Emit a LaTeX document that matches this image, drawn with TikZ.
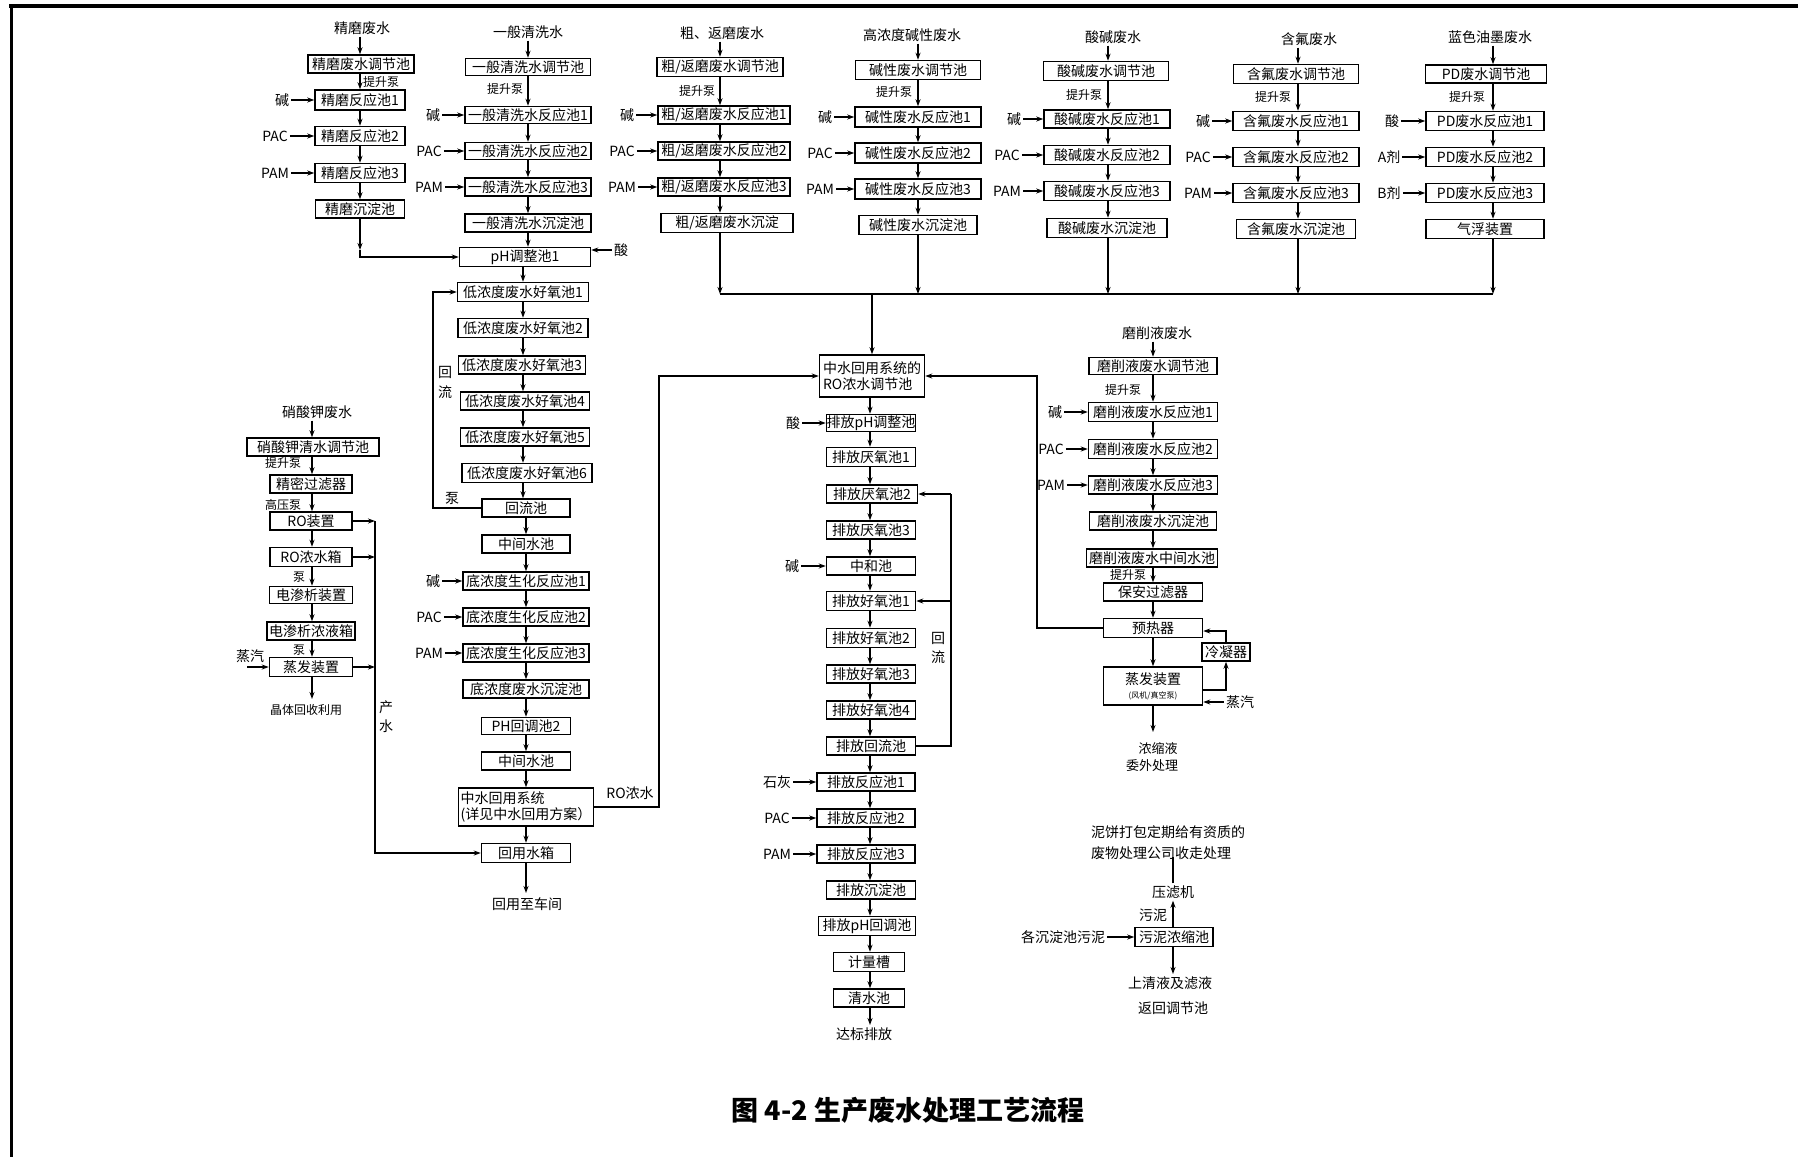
\documentclass[tikz,border=0pt]{standalone}
\usepackage{fontspec}
\setmainfont{Noto Sans CJK SC}
\usetikzlibrary{arrows.meta,calc}
\newcommand\Bx[5]{\node[bx,minimum width=#4pt,minimum height=#5pt] (#1) at (#2) {#3};}
\newcommand\Lb[3]{\node[lb] (#1) at (#2) {#3};}
\newcommand\Sl[3]{\node[sl] (#1) at (#2) {#3};}
\begin{document}
\begin{tikzpicture}[x=1pt,y=-1pt,
 bx/.style={draw,line width=1.5pt,inner sep=0pt,font=\fontsize{14}{16}\selectfont},
 lb/.style={inner sep=2pt,font=\fontsize{14}{16}\selectfont},
 sl/.style={inner sep=1pt,font=\fontsize{12}{14}\selectfont},
 ar/.style={line width=1.2pt,-{Stealth[length=7pt,width=5pt]}},
 ln/.style={line width=1.2pt}]
\useasboundingbox (0,0) rectangle (1798,1157);
% frame
\draw[line width=4pt] (9,6) -- (1798,6);
\draw[line width=3pt] (11,6) -- (11,1157);
% arrow columns
\coordinate (X1) at (360,0);
\coordinate (X2) at (528,0);
\coordinate (X2b) at (523,0);
\coordinate (X2c) at (526,0);
\coordinate (X3) at (720,0);
\coordinate (X4) at (918,0);
\coordinate (X5) at (1108,0);
\coordinate (X6) at (1298,0);
\coordinate (X7) at (1493,0);
\coordinate (XK) at (312,0);
\coordinate (XP) at (870,0);
\coordinate (XR) at (872,0);
\coordinate (XM) at (1153,0);
% ---------- column 1
\Lb{t1}{362,28}{精磨废水}
\Bx{a0}{361,64}{精磨废水调节池}{106}{18}
\node[sl,anchor=west] (a0p) at (362,82) {提升泵};
\Bx{a1}{360,100}{精磨反应池1}{90}{20}
\Bx{a2}{360,136}{精磨反应池2}{90}{19}
\Bx{a3}{360,173}{精磨反应池3}{90}{19}
\Bx{a4}{360,209}{精磨沉淀池}{89}{18}
\Lb{a1c}{282,100}{碱}
\Lb{a2c}{275,136}{PAC}
\Lb{a3c}{275,173}{PAM}
% ---------- column 2
\Lb{t2}{528,32}{一般清洗水}
\Bx{b0}{528,67}{一般清洗水调节池}{125}{17}
\Sl{b0p}{505,89}{提升泵}
\Bx{b1}{528,115}{一般清洗水反应池1}{126}{17}
\Bx{b2}{528,151}{一般清洗水反应池2}{126}{17}
\Bx{b3}{528,187}{一般清洗水反应池3}{126}{18}
\Bx{b4}{528,223}{一般清洗水沉淀池}{126}{18}
\Lb{b1c}{433,115}{碱}
\Lb{b2c}{429,151}{PAC}
\Lb{b3c}{429,187}{PAM}
\Bx{pH1}{525,257}{pH调整池1}{131}{19}
\Lb{san1}{621,250}{酸}
\Bx{o1}{523,292}{低浓度废水好氧池1}{131}{19}
\Bx{o2}{523,328}{低浓度废水好氧池2}{130}{19}
\Bx{o3}{522,365}{低浓度废水好氧池3}{127}{18}
\Bx{o4}{525,401}{低浓度废水好氧池4}{129}{18}
\Bx{o5}{525,437}{低浓度废水好氧池5}{129}{18}
\Bx{o6}{527,473}{低浓度废水好氧池6}{130}{19}
\Bx{hl}{526,508}{回流池}{88}{18}
\Bx{zj1}{526,544}{中间水池}{88}{18}
\Lb{hl1}{445,372}{回}
\Lb{hl2}{445,392}{流}
\Lb{beng1}{452,498}{泵}
\Bx{d1}{526,581}{底浓度生化反应池1}{126}{18}
\Bx{d2}{526,617}{底浓度生化反应池2}{126}{18}
\Bx{d3}{526,653}{底浓度生化反应池3}{126}{18}
\Bx{d4}{526,689}{底浓度废水沉淀池}{126}{18}
\Lb{d1c}{433,581}{碱}
\Lb{d2c}{429,617}{PAC}
\Lb{d3c}{429,653}{PAM}
\Bx{ph2}{526,726}{PH回调池2}{89}{17}
\Bx{zj2}{526,761}{中间水池}{89}{18}
\node[bx,minimum width=135pt,minimum height=38pt,align=left] (zs) at (526,807) {中水回用系统\\(详见中水回用方案）};
\Bx{hy}{526,853}{回用水箱}{89}{19}
\Lb{hyc}{527,904}{回用至车间}
\Lb{rono}{630,793}{RO浓水}
% ---------- left column
\Lb{tk}{317,412}{硝酸钾废水}
\Bx{k0}{313,447}{硝酸钾清水调节池}{132}{18}
\Sl{k0p}{283,463}{提升泵}
\Bx{k1}{311,484}{精密过滤器}{82}{18}
\Sl{k1p}{283,505}{高压泵}
\Bx{k2}{311,521}{RO装置}{82}{18}
\Bx{k3}{311,557}{RO浓水箱}{82}{19}
\Sl{k3p}{299,577}{泵}
\Bx{k4}{311,595}{电渗析装置}{83}{17}
\Bx{k5}{311,631}{电渗析浓液箱}{88}{18}
\Sl{k5p}{299,650}{泵}
\Bx{k6}{311,667}{蒸发装置}{83}{19}
\Lb{kzq}{250,656}{蒸汽}
\Sl{kend}{306,710}{晶体回收利用}
\Lb{cs1}{386,707}{产}
\Lb{cs2}{386,726}{水}
% ---------- column 3
\Lb{t3}{722,33}{粗、返磨废水}
\Bx{c0}{720,67}{粗/返磨废水调节池}{126}{19}
\Sl{c0p}{697,91}{提升泵}
\Bx{c1}{724,115}{粗/返磨废水反应池1}{132}{18}
\Bx{c2}{724,151}{粗/返磨废水反应池2}{132}{18}
\Bx{c3}{724,187}{粗/返磨废水反应池3}{132}{18}
\Bx{c4}{727,223}{粗/返磨废水沉淀}{132}{19}
\Lb{c1c}{627,115}{碱}
\Lb{c2c}{622,151}{PAC}
\Lb{c3c}{622,187}{PAM}
% ---------- column 4
\Lb{t4}{912,35}{高浓度碱性废水}
\Bx{e0}{918,70}{碱性废水调节池}{125}{19}
\Sl{e0p}{894,92}{提升泵}
\Bx{e1}{918,117}{碱性废水反应池1}{126}{20}
\Bx{e2}{918,153}{碱性废水反应池2}{126}{20}
\Bx{e3}{918,189}{碱性废水反应池3}{126}{20}
\Bx{e4}{918,225}{碱性废水沉淀池}{118}{19}
\Lb{e1c}{825,117}{碱}
\Lb{e2c}{820,153}{PAC}
\Lb{e3c}{820,189}{PAM}
% ---------- column 5
\Lb{t5}{1113,37}{酸碱废水}
\Bx{f0}{1106,71}{酸碱废水调节池}{125}{19}
\Sl{f0p}{1084,95}{提升泵}
\Bx{f1}{1107,119}{酸碱废水反应池1}{126}{18}
\Bx{f2}{1107,155}{酸碱废水反应池2}{126}{19}
\Bx{f3}{1107,191}{酸碱废水反应池3}{126}{19}
\Bx{f4}{1107,228}{酸碱废水沉淀池}{120}{19}
\Lb{f1c}{1014,119}{碱}
\Lb{f2c}{1007,155}{PAC}
\Lb{f3c}{1007,191}{PAM}
% ---------- column 6
\Lb{t6}{1309,39}{含氟废水}
\Bx{g0}{1296,74}{含氟废水调节池}{125}{19}
\Sl{g0p}{1273,97}{提升泵}
\Bx{g1}{1296,121}{含氟废水反应池1}{126}{19}
\Bx{g2}{1296,157}{含氟废水反应池2}{126}{19}
\Bx{g3}{1296,193}{含氟废水反应池3}{126}{19}
\Bx{g4}{1296,229}{含氟废水沉淀池}{119}{19}
\Lb{g1c}{1203,121}{碱}
\Lb{g2c}{1198,157}{PAC}
\Lb{g3c}{1198,193}{PAM}
% ---------- column 7
\Lb{t7}{1490,37}{蓝色油墨废水}
\Bx{h0}{1486,74}{PD废水调节池}{121}{18}
\Sl{h0p}{1467,97}{提升泵}
\Bx{h1}{1485,121}{PD废水反应池1}{118}{19}
\Bx{h2}{1485,157}{PD废水反应池2}{118}{19}
\Bx{h3}{1485,193}{PD废水反应池3}{118}{19}
\Bx{h4}{1485,229}{气浮装置}{118}{19}
\Lb{h1c}{1392,121}{酸}
\Lb{h2c}{1389,157}{A剂}
\Lb{h3c}{1389,193}{B剂}
% ---------- middle column
\node[bx,minimum width=105pt,minimum height=42pt,align=left] (ro) at (872,376) {中水回用系统的\\RO浓水调节池};
\Bx{p1}{871,423}{排放pH调整池}{89}{17}
\Bx{p2}{871,457}{排放厌氧池1}{89}{19}
\Bx{p3}{872,494}{排放厌氧池2}{91}{18}
\Bx{p4}{871,530}{排放厌氧池3}{89}{18}
\Bx{p5}{871,566}{中和池}{89}{18}
\Bx{p6}{871,601}{排放好氧池1}{89}{19}
\Bx{p7}{871,638}{排放好氧池2}{89}{19}
\Bx{p8}{871,674}{排放好氧池3}{89}{18}
\Bx{p9}{871,710}{排放好氧池4}{89}{18}
\Bx{p10}{871,746}{排放回流池}{89}{18}
\Bx{p11}{866,782}{排放反应池1}{98}{18}
\Bx{p12}{866,818}{排放反应池2}{98}{18}
\Bx{p13}{866,854}{排放反应池3}{98}{18}
\Bx{p14}{871,890}{排放沉淀池}{89}{18}
\Bx{p15}{867,926}{排放pH回调池}{97}{19}
\Bx{p16}{869,962}{计量槽}{71}{19}
\Bx{p17}{869,998}{清水池}{71}{18}
\Lb{p1c}{793,423}{酸}
\Lb{p5c}{792,566}{碱}
\Lb{p11c}{777,782}{石灰}
\Lb{p12c}{777,818}{PAC}
\Lb{p13c}{777,854}{PAM}
\Lb{phl1}{938,638}{回}
\Lb{phl2}{938,657}{流}
\Lb{dbpf}{864,1034}{达标排放}
% ---------- right column
\Lb{tm}{1157,333}{磨削液废水}
\Bx{m0}{1153,366}{磨削液废水调节池}{128}{17}
\Sl{m0p}{1123,390}{提升泵}
\Bx{m1}{1153,412}{磨削液废水反应池1}{129}{19}
\Bx{m2}{1153,449}{磨削液废水反应池2}{129}{19}
\Bx{m3}{1153,485}{磨削液废水反应池3}{129}{18}
\Bx{m4}{1153,521}{磨削液废水沉淀池}{127}{18}
\Bx{m5}{1152,558}{磨削液废水中间水池}{131}{18}
\Sl{m5p}{1128,575}{提升泵}
\Bx{m6}{1153,592}{保安过滤器}{99}{18}
\Bx{m7}{1153,628}{预热器}{99}{19}
\node[bx,minimum width=99pt,minimum height=38pt,align=center] (m8) at (1153,686) {蒸发装置\\[-2pt]{\fontsize{8}{10}\selectfont (风机/真空泵)}};
\Bx{lnq}{1226,652}{冷凝器}{48}{18}
\Lb{m1c}{1055,412}{碱}
\Lb{m2c}{1051,449}{PAC}
\Lb{m3c}{1051,485}{PAM}
\Lb{mzq}{1240,702}{蒸汽}
\node[lb,font=\fontsize{13}{15}\selectfont] (nsy) at (1158,749) {浓缩液};
\node[lb,font=\fontsize{13}{15}\selectfont] (wwcl) at (1152,766) {委外处理};
% ---------- sludge
\node[lb,align=left,font=\fontsize{14}{21}\selectfont] (nb) at (1168,843) {泥饼打包定期给有资质的\\废物处理公司收走处理};
\Lb{ylj}{1173,892}{压滤机}
\Bx{wn}{1174,937}{污泥浓缩池}{78}{19}
\Lb{wnl}{1153,915}{污泥}
\Lb{gcd}{1063,937}{各沉淀池污泥}
\Lb{sqy}{1170,983}{上清液及滤液}
\Lb{fhl}{1173,1008}{返回调节池}
% ---------- title
\node[font=\fontsize{27}{30}\selectfont\bfseries] (title) at (908,1110) {图 4-2 生产废水处理工艺流程};

% ================= connectors
% column 1
\draw[ar] (t1.south -| X1) -- (a0.north -| X1);
\foreach \u/\v in {a0/a1,a1/a2,a2/a3,a3/a4} \draw[ar] (\u.south -| X1) -- (\v.north -| X1);
\foreach \c/\b in {a1c/a1,a2c/a2,a3c/a3} \draw[ar] (\c) -- (\c -| \b.west);
\coordinate (a4e) at (360,250);
\draw[ar] (a4.south -| X1) -- (a4e);
\draw[ar] (a4e) |- (pH1.west);
% column 2
\draw[ar] (t2.south -| X2) -- (b0.north -| X2);
\foreach \u/\v in {b0/b1,b1/b2,b2/b3,b3/b4,b4/pH1} \draw[ar] (\u.south -| X2) -- (\v.north -| X2);
\foreach \c/\b in {b1c/b1,b2c/b2,b3c/b3} \draw[ar] (\c) -- (\c -| \b.west);
\draw[ar] (san1) -- (san1 -| pH1.east);
\foreach \u/\v in {pH1/o1,o1/o2,o2/o3,o3/o4,o4/o5,o5/o6,o6/hl} \draw[ar] (\u.south -| X2b) -- (\v.north -| X2b);
\foreach \u/\v in {hl/zj1,zj1/d1,d1/d2,d2/d3,d3/d4,d4/ph2,ph2/zj2,zj2/zs,zs/hy} \draw[ar] (\u.south -| X2c) -- (\v.north -| X2c);
\foreach \c/\b in {d1c/d1,d2c/d2,d3c/d3} \draw[ar] (\c) -- (\c -| \b.west);
\coordinate (hlx) at (433,0);
\draw[ar] (hl.west) -- (hlx |- hl.west) |- (o1.west);
\coordinate (hyend) at (526,893);
\draw[ar] (hy.south -| X2c) -- (hyend);
% RO concentrate
\coordinate (rv) at (659,0);
\draw[ar] (zs.east) -- (rv |- zs.east) |- (ro.west);
% left column
\draw[ar] (tk.south -| XK) -- (k0.north -| XK);
\foreach \u/\v in {k0/k1,k1/k2,k2/k3,k3/k4,k4/k5,k5/k6} \draw[ar] (\u.south -| XK) -- (\v.north -| XK);
\coordinate (cs) at (375,0);
\foreach \b in {k2,k3,k6} \draw[ar] (\b.east) -- (\b.east -| cs);
\draw[ar] (cs |- k2.east) -- (cs |- hy.west) -- (hy.west);
\coordinate (kzs) at (247,667);
\draw[ar] (kzs) -- (kzs -| k6.west);
\coordinate (kdn) at (312,699);
\draw[ar] (k6.south -| XK) -- (kdn);
% column 3
\coordinate (busL) at (720,294);
\coordinate (busR) at (1493,294);
\draw[ar] (t3.south -| X3) -- (c0.north -| X3);
\foreach \u/\v in {c0/c1,c1/c2,c2/c3,c3/c4} \draw[ar] (\u.south -| X3) -- (\v.north -| X3);
\foreach \c/\b in {c1c/c1,c2c/c2,c3c/c3} \draw[ar] (\c) -- (\c -| \b.west);
\draw[ar] (c4.south -| X3) -- (X3 |- busL);
% column 4
\draw[ar] (t4.south -| X4) -- (e0.north -| X4);
\foreach \u/\v in {e0/e1,e1/e2,e2/e3,e3/e4} \draw[ar] (\u.south -| X4) -- (\v.north -| X4);
\foreach \c/\b in {e1c/e1,e2c/e2,e3c/e3} \draw[ar] (\c) -- (\c -| \b.west);
\draw[ar] (e4.south -| X4) -- (X4 |- busL);
% column 5
\draw[ar] (t5.south -| X5) -- (f0.north -| X5);
\foreach \u/\v in {f0/f1,f1/f2,f2/f3,f3/f4} \draw[ar] (\u.south -| X5) -- (\v.north -| X5);
\foreach \c/\b in {f1c/f1,f2c/f2,f3c/f3} \draw[ar] (\c) -- (\c -| \b.west);
\draw[ar] (f4.south -| X5) -- (X5 |- busL);
% column 6
\draw[ar] (t6.south -| X6) -- (g0.north -| X6);
\foreach \u/\v in {g0/g1,g1/g2,g2/g3,g3/g4} \draw[ar] (\u.south -| X6) -- (\v.north -| X6);
\foreach \c/\b in {g1c/g1,g2c/g2,g3c/g3} \draw[ar] (\c) -- (\c -| \b.west);
\draw[ar] (g4.south -| X6) -- (X6 |- busL);
% column 7
\draw[ar] (t7.south -| X7) -- (h0.north -| X7);
\foreach \u/\v in {h0/h1,h1/h2,h2/h3,h3/h4} \draw[ar] (\u.south -| X7) -- (\v.north -| X7);
\foreach \c/\b in {h1c/h1,h2c/h2,h3c/h3} \draw[ar] (\c) -- (\c -| \b.west);
\draw[ar] (h4.south -| X7) -- (busR);
% bus
\draw[ln] (busL) -- (busR);
\draw[ar] (XR |- busL) -- (ro.north -| XR);
% middle column
\draw[ar] (ro.south -| XP) -- (p1.north -| XP);
\foreach \u/\v in {p1/p2,p2/p3,p3/p4,p4/p5,p5/p6,p6/p7,p7/p8,p8/p9,p9/p10,p10/p11,p11/p12,p12/p13,p13/p14,p14/p15,p15/p16,p16/p17} \draw[ar] (\u.south -| XP) -- (\v.north -| XP);
\foreach \c/\b in {p1c/p1,p5c/p5,p11c/p11,p12c/p12,p13c/p13} \draw[ar] (\c) -- (\c -| \b.west);
\coordinate (rx) at (951,0);
\draw[ln] (p10.east) -- (rx |- p10.east) -- (rx |- p3.east);
\draw[ar] (rx |- p3.east) -- (p3.east);
\draw[ar] (rx |- p6.east) -- (p6.east);
\coordinate (pend) at (870,1025);
\draw[ar] (p17.south -| XP) -- (pend);
% right column
\draw[ar] (tm.south -| XM) -- (m0.north -| XM);
\foreach \u/\v in {m0/m1,m1/m2,m2/m3,m3/m4,m4/m5,m5/m6,m6/m7,m7/m8} \draw[ar] (\u.south -| XM) -- (\v.north -| XM);
\foreach \c/\b in {m1c/m1,m2c/m2,m3c/m3} \draw[ar] (\c) -- (\c -| \b.west);
\coordinate (yv) at (1037,0);
\draw[ar] (m7.west) -- (yv |- m7.west) |- (ro.east);
\draw[ar] ([yshift=-4pt]m8.east) -| (lnq.south);
\draw[ar] (lnq.north) |- ([yshift=-3pt]m7.east);
\draw[ar] (mzq) -- (mzq -| m8.east);
\coordinate (mend) at (1153,732);
\draw[ar] (m8.south -| XM) -- (mend);
% sludge
\coordinate (nbx) at (1173,857);
\draw[ln] (ylj.north) -- (nbx);
\draw[ar] (wn.north -| ylj) -- (ylj.south);
\draw[ar] (gcd) -- (gcd -| wn.west);
\coordinate (wnend) at (1173,974);
\draw[ar] (wn.south -| ylj) -- (wnend);
\end{tikzpicture}
\end{document}
